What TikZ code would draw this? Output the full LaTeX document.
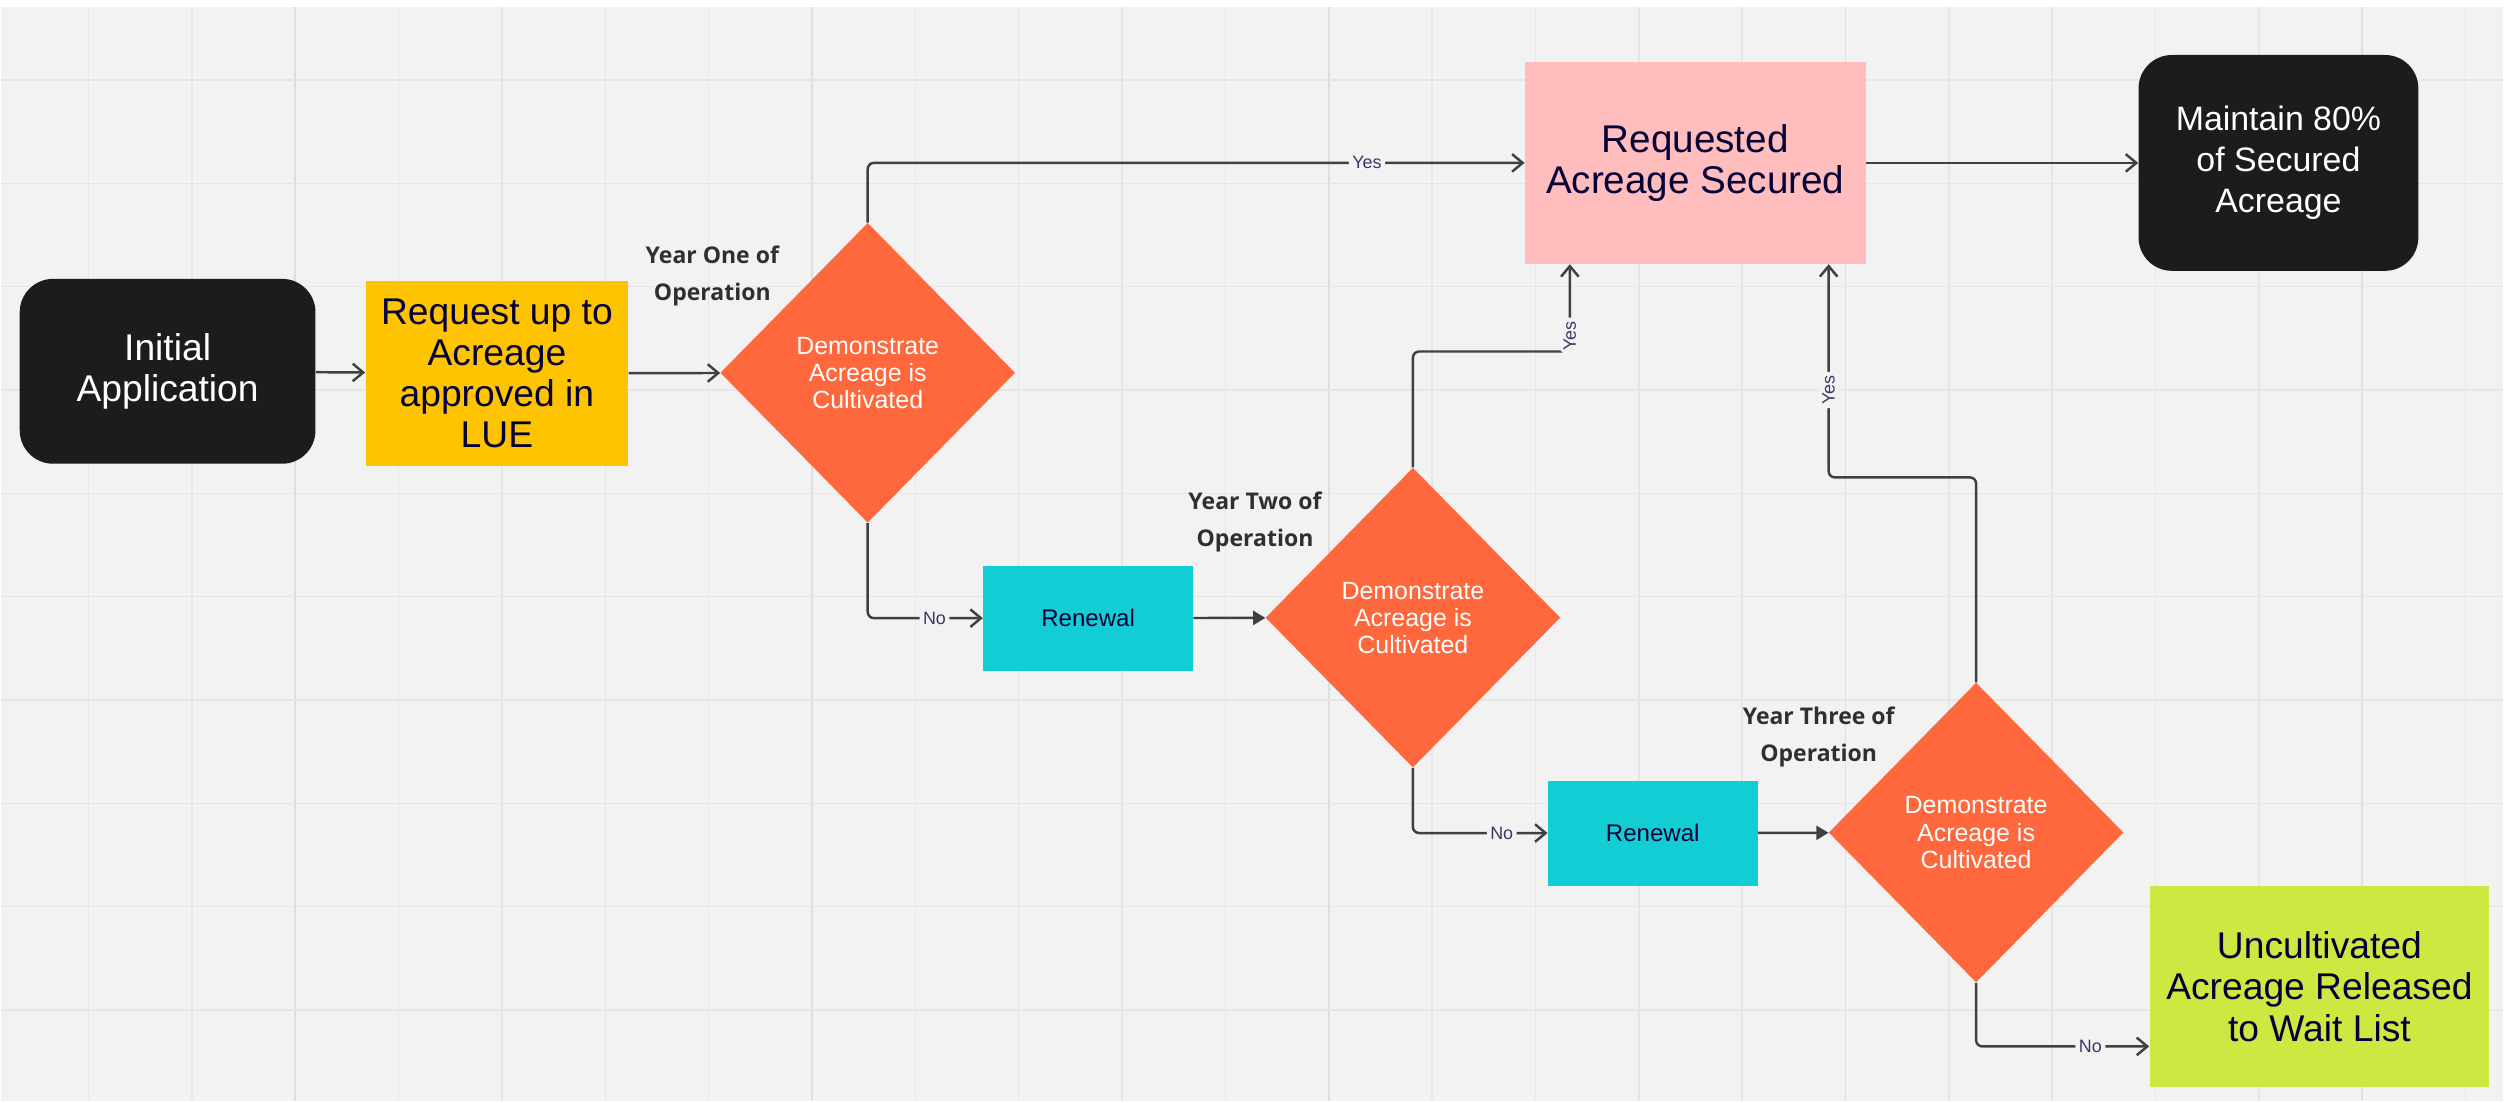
\documentclass[tikz,border=0pt]{standalone}
\usepackage{fontspec}
\setmainfont{Liberation Sans}
\newfontfamily\yearfont{Open Sans}
\usetikzlibrary{shapes.geometric,arrows.meta}
\definecolor{board}{HTML}{F2F2F2}
\definecolor{gridc}{HTML}{E6E6E6}
\definecolor{gridmaj}{HTML}{DEDEDE}
\definecolor{inkc}{HTML}{050038}
\definecolor{linec}{HTML}{404040}
\definecolor{blackc}{HTML}{1C1C1C}
\definecolor{yellowc}{HTML}{FFC400}
\definecolor{orangec}{HTML}{FF673D}
\definecolor{pinkc}{HTML}{FFBDBD}
\definecolor{cyanc}{HTML}{12CDD4}
\definecolor{limec}{HTML}{CEE741}
\definecolor{labelc}{HTML}{3A3766}
\definecolor{yeartc}{HTML}{2F2F2F}

\begin{document}
\begin{tikzpicture}[x=0.02cm,y=-0.02cm]
	\tikzset{
		open/.style={-{Straight Barb[length=6pt,width=10pt]}},
		fullhead/.style={-{Triangle[length=7pt,width=8pt]}},
		conn/.style={draw=linec, line width=1.4pt, rounded corners=3.5pt},
		box/.style={rectangle, inner sep=0pt, align=center, text=inkc, font=\fontsize{21.2}{23.5}\selectfont},
		term/.style={box, fill=blackc, text=white, rounded corners=19pt},
		check/.style={diamond, aspect=0.98, fill=orangec, minimum width=5.9cm, minimum height=6cm, inner sep=0pt, align=center, text=white, font=\fontsize{14.2}{15.4}\selectfont},
		renew/.style={box, fill=cyanc, minimum width=4.2cm, minimum height=2.1cm, font=\fontsize{13.7}{15}\selectfont},
		yes/.style={fill=board, inner sep=2pt, text=labelc, font=\fontsize{10.2}{11}\selectfont},
		year/.style={align=center, text=yeartc, font=\yearfont\bfseries\fontsize{13.1}{21}\selectfont}
	}
	\fill[board] (0,0) rectangle (2504,1102);
	\fill[white] (0,0) rectangle (2504,7);
	\foreach \i in {1,...,24}
		\draw[gridc, line width=0.8pt] ({-15.4+103.4*\i},7) -- ({-15.4+103.4*\i},1102);
	\foreach \i in {3,8,...,23}
		\draw[gridmaj, line width=1pt] ({-15.4+103.4*\i},7) -- ({-15.4+103.4*\i},1102);
	\foreach \j in {0,...,9}
		\draw[gridc, line width=0.8pt] (0,{80+103.4*\j}) -- (2504,{80+103.4*\j});

	\node[term, minimum width=5.92cm, minimum height=3.7cm] (init) at (167,371.5) {Initial\\Application};
	\node[box, fill=yellowc, minimum width=5.26cm, minimum height=3.7cm] (request) at (496.5,373.5) {Request up to\\Acreage\\approved in\\LUE};
	\node[check] (check1) at (867.5,373) {Demonstrate\\Acreage is\\Cultivated};
	\node[renew] (renew1) at (1088,618.5) {Renewal};
	\node[check] (check2) at (1413,618) {Demonstrate\\Acreage is\\Cultivated};
	\node[renew] (renew2) at (1653,833.5) {Renewal};
	\node[check] (check3) at (1976.5,833) {Demonstrate\\Acreage is\\Cultivated};
	\node[box, fill=pinkc, minimum width=6.82cm, minimum height=4.04cm, font=\fontsize{22}{23.5}\selectfont] (secured) at (1695.5,163) {Requested\\Acreage Secured};
	\node[term, minimum width=5.6cm, minimum height=4.32cm, font=\fontsize{19.3}{23.5}\selectfont] (maintain) at (2279,163) {Maintain 80\%\\of Secured\\Acreage};
	\node[box, fill=limec, minimum width=6.8cm, minimum height=4.04cm] (waitlist) at (2320,987) {Uncultivated\\Acreage Released\\to Wait List};

	\node[year] (year1) at (712,276) {Year One of\\Operation};
	\node[year] (year2) at (1255,522) {Year Two of\\Operation};
	\node[year] (year3) at (1819,737) {Year Three of\\Operation};

	\draw[conn,open] (init) -- (request);
	\draw[conn,open] (request) -- (check1);
	\draw[conn,open] (check1.north) |- (secured.west) node[yes,pos=0.88] {Yes};
	\draw[conn,open] (secured) -- (maintain);
	\draw[conn,open] (check1.south) |- (renew1.west) node[yes,pos=0.79] {No};
	\draw[conn,fullhead] (renew1) -- (check2);
	\draw[conn,open] (check2.north) -- ++(0,-116) -| ([xshift=-2.51cm]secured.south) node[yes,rotate=90,pos=0.59] {Yes};
	\draw[conn,open] (check2.south) |- (renew2.west) node[yes,pos=0.83] {No};
	\draw[conn,fullhead] (renew2) -- (check3);
	\draw[conn,open] (check3.north) -- ++(0,-205) -| ([xshift=2.67cm]secured.south) node[yes,rotate=90,pos=0.705] {Yes};
	\draw[conn,open] (check3.south) |- ([yshift=-1.2cm]waitlist.west) node[yes,pos=0.83] {No};
\end{tikzpicture}
\end{document}
